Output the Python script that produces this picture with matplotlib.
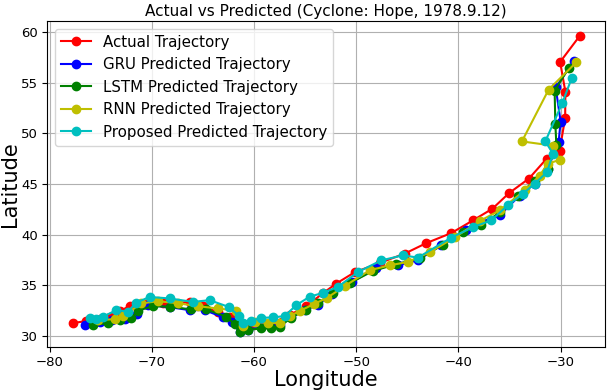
import numpy as np
import matplotlib
matplotlib.use('Agg')
import matplotlib.pyplot as plt

# actual track
actual_lon = [-77.75, -76.48, -75.11, -74.13, -73.15, -72.17, -70.70, -68.94, -66.30, -65.03,
              -63.56, -62.39, -61.12, -60.04, -59.16, -58.18, -56.52, -54.88, -53.29, -51.95,
              -50.16, -47.71, -45.26, -43.14, -40.70, -38.58, -36.68, -35.06, -33.10, -31.37,
              -30.10, -29.56, -29.54, -30.05, -28.14]
actual_lat = [31.29, 31.48, 31.68, 31.91, 32.47, 32.96, 33.16, 33.25, 33.35, 32.96,
              32.37, 31.88, 31.00, 31.19, 31.29, 31.32, 32.08, 32.96, 34.21, 35.19,
              36.30, 37.22, 38.14, 39.18, 40.17, 41.42, 42.57, 44.10, 45.55, 47.51,
              48.30, 51.54, 54.10, 57.05, 59.61]

gru_lon = [-76.58, -75.11, -73.93, -72.66, -71.49, -70.41, -68.26, -66.30, -64.83, -63.07,
           -62.19, -61.41, -60.63, -59.29, -58.31, -57.50, -56.35, -55.05, -53.78, -52.41,
           -50.45, -48.10, -45.95, -43.99, -41.67, -39.23, -37.93, -35.97, -34.01, -32.54,
           -31.27, -30.20, -30.00, -30.49, -28.73]
gru_lat = [31.09, 31.39, 31.58, 31.68, 32.17, 33.06, 32.86, 32.57, 32.57, 31.88,
           31.39, 30.43, 30.60, 30.92, 30.92, 31.09, 31.91, 32.57, 33.06, 34.14,
           35.32, 36.70, 36.99, 37.48, 38.96, 40.43, 41.22, 41.91, 43.87, 45.05,
           46.53, 49.18, 51.15, 54.54, 57.10]

lstm_lon = [-75.79, -74.32, -73.15, -72.01, -71.36, -69.89, -68.26, -66.14, -64.67, -62.71,
            -61.90, -61.41, -60.63, -59.29, -58.31, -57.50, -56.35, -54.95, -53.75, -52.31,
            -50.65, -48.37, -46.14, -43.80, -41.52, -39.56, -37.76, -35.97, -34.18, -32.54,
            -31.27, -30.42, -30.52, -30.59, -29.19]
lstm_lat = [31.09, 31.29, 31.58, 31.75, 32.52, 32.96, 32.91, 32.64, 32.64, 31.93,
            31.19, 30.40, 30.60, 30.77, 30.77, 30.92, 31.83, 32.57, 33.23, 34.21,
            35.22, 36.43, 37.09, 37.68, 39.03, 40.27, 40.92, 42.20, 43.87, 45.35,
            46.53, 48.89, 50.92, 54.20, 56.49]

rnn_lon = [-75.30, -73.64, -72.83, -71.03, -69.40, -67.45, -65.49, -63.53, -61.73, -61.09,
           -59.94, -58.64, -57.50, -56.52, -55.54, -54.17, -52.90, -51.14, -48.69, -46.73,
           -44.94, -42.82, -40.37, -37.93, -35.97, -33.52, -32.05, -31.27, -30.10, -30.75,
           -33.79, -31.17, -28.46]
rnn_lat = [31.58, 31.68, 31.98, 33.23, 33.45, 33.25, 32.96, 32.73, 32.52, 30.99,
           31.42, 31.29, 31.32, 31.98, 32.47, 33.16, 33.75, 34.93, 36.50, 36.99,
           37.32, 38.27, 39.74, 41.35, 42.40, 44.37, 45.84, 47.02, 47.38, 48.79,
           49.21, 54.33, 57.02]

prop_lon = [-76.09, -75.43, -74.78, -73.47, -72.34, -71.52, -70.22, -68.26, -65.98, -64.34,
            -62.49, -61.51, -61.09, -60.26, -59.29, -58.15, -57.01, -55.86, -54.56, -53.26,
            -51.79, -49.83, -47.54, -45.43, -43.96, -40.70, -38.58, -36.78, -35.19, -33.69,
            -32.54, -31.34, -30.75, -31.50, -29.83, -28.92]
prop_lat = [31.75, 31.65, 31.91, 32.57, 32.42, 33.30, 33.87, 33.72, 33.38, 33.55,
            32.89, 32.03, 31.26, 31.52, 31.81, 31.85, 31.98, 33.06, 33.89, 34.27,
            34.86, 36.33, 37.48, 37.97, 37.75, 39.72, 40.76, 41.42, 42.89, 44.04,
            45.05, 46.17, 48.00, 49.21, 53.02, 55.45]

fig, ax = plt.subplots(figsize=(6.13, 3.92), dpi=100)
plt.subplots_adjust(left=0.077, right=0.987, bottom=0.115, top=0.946)

ax.plot(actual_lon, actual_lat, 'r-o', markersize=6, label='Actual Trajectory')
ax.plot(gru_lon, gru_lat, 'b-o', markersize=6, label='GRU Predicted Trajectory')
ax.plot(lstm_lon, lstm_lat, 'g-o', markersize=6, label='LSTM Predicted Trajectory')
ax.plot(rnn_lon, rnn_lat, 'y-o', markersize=6, label='RNN Predicted Trajectory')
ax.plot(prop_lon, prop_lat, 'c-o', markersize=6, label='Proposed Predicted Trajectory')

ax.grid(True)
ax.set_title('Actual vs Predicted (Cyclone: Hope, 1978.9.12)', fontsize=11, pad=4)
ax.set_xlabel('Longitude', fontsize=15, labelpad=1)
ax.set_ylabel('Latitude', fontsize=15, labelpad=0.5)
ax.tick_params(labelsize=9.5, pad=3)
ax.legend(loc='upper left', fontsize=10.8)

fig.savefig('out.png', dpi=100)
